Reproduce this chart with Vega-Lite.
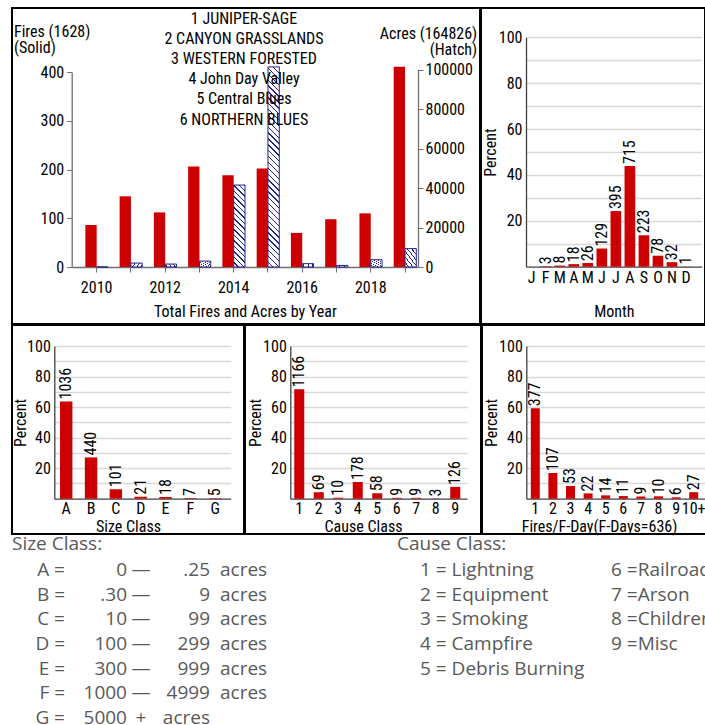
{
  "$schema": "https://vega.github.io/schema/vega-lite/v6.json",
  "padding": {"left": 11, "top": 7, "right": 0, "bottom": 0},
  "background": "white",
  "config": {
    "view": {"stroke": "#000000", "strokeWidth": 2},
    "font": "Liberation Sans Narrow, Arial Narrow, Roboto Condensed, DejaVu Sans Condensed, Liberation Sans, sans-serif",
    "axis": {
      "labelFont": "Liberation Sans Narrow, Arial Narrow, Roboto Condensed, DejaVu Sans Condensed, Liberation Sans, sans-serif",
      "titleFont": "Liberation Sans Narrow, Arial Narrow, Roboto Condensed, DejaVu Sans Condensed, Liberation Sans, sans-serif",
      "labelFontSize": 16, "titleFontSize": 16, "titleFontWeight": "normal",
      "labelColor": "#000000", "titleColor": "#000000",
      "domainColor": "#404040", "domainWidth": 1.3, "tickColor": "#404040",
      "gridColor": "#d9d9d9", "gridWidth": 1.3,
      "labelOverlap": false, "labelBound": false, "labelFlush": false
    },
    "title": {"fontWeight": "normal", "color": "#000000"},
    "text": {"font": "Liberation Sans Narrow, Arial Narrow, Roboto Condensed, DejaVu Sans Condensed, Liberation Sans, sans-serif", "fontSize": 16, "color": "#000000"}
  },
  "datasets": {
    "years": [
      {"year": 2010, "fires": 86, "acres": 0},
      {"year": 2011, "fires": 145, "acres": 2000},
      {"year": 2012, "fires": 112, "acres": 1500},
      {"year": 2013, "fires": 206, "acres": 3000},
      {"year": 2014, "fires": 188, "acres": 41500},
      {"year": 2015, "fires": 202, "acres": 101326},
      {"year": 2016, "fires": 70, "acres": 1700},
      {"year": 2017, "fires": 98, "acres": 800},
      {"year": 2018, "fires": 110, "acres": 3700},
      {"year": 2019, "fires": 411, "acres": 9300}
    ],
    "regions": [
      {"region": "1 JUNIPER-SAGE"},
      {"region": "2 CANYON GRASSLANDS"},
      {"region": "3 WESTERN FORESTED"},
      {"region": "4 John Day Valley"},
      {"region": "5 Central Blues"},
      {"region": "6 NORTHERN BLUES"}
    ],
    "months": [
      {"month": "Jan", "count": 0, "pct": 0},
      {"month": "Feb", "count": 3, "pct": 0.18},
      {"month": "Mar", "count": 8, "pct": 0.49},
      {"month": "Apr", "count": 18, "pct": 1.11},
      {"month": "May", "count": 26, "pct": 1.6},
      {"month": "Jun", "count": 129, "pct": 7.92},
      {"month": "Jul", "count": 395, "pct": 24.26},
      {"month": "Aug", "count": 715, "pct": 43.92},
      {"month": "Sep", "count": 223, "pct": 13.7},
      {"month": "Oct", "count": 78, "pct": 4.79},
      {"month": "Nov", "count": 32, "pct": 1.97},
      {"month": "Dec", "count": 1, "pct": 0.06}
    ],
    "size": [
      {"cls": "A", "count": 1036, "pct": 63.64},
      {"cls": "B", "count": 440, "pct": 27.03},
      {"cls": "C", "count": 101, "pct": 6.2},
      {"cls": "D", "count": 21, "pct": 1.29},
      {"cls": "E", "count": 18, "pct": 1.11},
      {"cls": "F", "count": 7, "pct": 0.43},
      {"cls": "G", "count": 5, "pct": 0.31}
    ],
    "cause": [
      {"cause": "1", "count": 1166, "pct": 71.62},
      {"cause": "2", "count": 69, "pct": 4.24},
      {"cause": "3", "count": 10, "pct": 0.61},
      {"cause": "4", "count": 178, "pct": 10.93},
      {"cause": "5", "count": 58, "pct": 3.56},
      {"cause": "6", "count": 9, "pct": 0.55},
      {"cause": "7", "count": 9, "pct": 0.55},
      {"cause": "8", "count": 3, "pct": 0.18},
      {"cause": "9", "count": 126, "pct": 7.74}
    ],
    "fday": [
      {"fpd": "1", "count": 377, "pct": 59.28},
      {"fpd": "2", "count": 107, "pct": 16.82},
      {"fpd": "3", "count": 53, "pct": 8.33},
      {"fpd": "4", "count": 22, "pct": 3.46},
      {"fpd": "5", "count": 14, "pct": 2.2},
      {"fpd": "6", "count": 11, "pct": 1.73},
      {"fpd": "7", "count": 9, "pct": 1.42},
      {"fpd": "8", "count": 10, "pct": 1.57},
      {"fpd": "9", "count": 6, "pct": 0.94},
      {"fpd": "10+", "count": 27, "pct": 4.25}
    ],
    "sizeLegend": [
      {"key": "A =", "lo": "0", "sep": "—", "hi": ".25", "unit": "acres"},
      {"key": "B =", "lo": ".30", "sep": "—", "hi": "9", "unit": "acres"},
      {"key": "C =", "lo": "10", "sep": "—", "hi": "99", "unit": "acres"},
      {"key": "D =", "lo": "100", "sep": "—", "hi": "299", "unit": "acres"},
      {"key": "E =", "lo": "300", "sep": "—", "hi": "999", "unit": "acres"},
      {"key": "F =", "lo": "1000", "sep": "—", "hi": "4999", "unit": "acres"},
      {"key": "G =", "lo": "5000", "sep": "+", "hi": "acres", "unit": ""}
    ],
    "causeLegend": [
      {"code": 1, "label": "1 = Lightning"},
      {"code": 2, "label": "2 = Equipment"},
      {"code": 3, "label": "3 = Smoking"},
      {"code": 4, "label": "4 = Campfire"},
      {"code": 5, "label": "5 = Debris Burning"},
      {"code": 6, "label": "6 =Railroad"},
      {"code": 7, "label": "7 =Arson"},
      {"code": 8, "label": "8 =Children"},
      {"code": 9, "label": "9 =Misc"}
    ]
  },
  "spacing": -1,
  "vconcat": [
    {
      "spacing": -2,
      "vconcat": [
        {
          "spacing": -2,
          "hconcat": [
            {
              "width": 468, "height": 316,
              "layer": [
                {
                  "data": {"name": "years"},
                  "mark": {"type": "bar", "color": "#cc0000", "width": {"band": 0.5}, "xOffset": -5.65},
                  "encoding": {
                    "x": {
                      "field": "year", "type": "ordinal",
                      "scale": {"range": [59.7, 406], "paddingInner": 0.34, "paddingOuter": 0.224, "align": 0.89},
                      "axis": {
                        "title": "Total Fires and Acres by Year", "labelAngle": 0, "offset": -57,
                        "labelExpr": "datum.value % 2 === 0 ? datum.label : ''",
                        "tickSize": 5, "labelPadding": 7, "titlePadding": 8,
                        "domainColor": "#707070", "tickColor": "#707070"
                      }
                    },
                    "y": {
                      "field": "fires", "type": "quantitative",
                      "scale": {"domain": [0, 400], "range": [259, 64], "nice": false},
                      "axis": {
                        "orient": "left", "offset": -59.7, "values": [0, 100, 200, 300, 400], "grid": false,
                        "title": ["Fires (1628)", "(Solid)"], "titleAngle": 0, "titleAlign": "left", "titleBaseline": "top",
                        "titleX": -58.2, "titleY": 15, "titleLineHeight": 16,
                        "tickSize": 5, "labelPadding": 3, "domainColor": "#707070", "tickColor": "#707070"
                      }
                    }
                  }
                },
                {
                  "data": {"name": "years"},
                  "mark": {"type": "bar", "width": {"band": 0.5}, "xOffset": 5.65, "stroke": "#23238e", "strokeWidth": 1},
                  "encoding": {
                    "x": {"field": "year", "type": "ordinal"},
                    "y": {
                      "field": "acres", "type": "quantitative",
                      "scale": {"domain": [0, 100000], "range": [259, 61.5], "nice": false},
                      "axis": {
                        "orient": "right", "offset": -62, "values": [0, 20000, 40000, 60000, 80000, 100000], "format": "d", "grid": false,
                        "title": ["Acres (164826)", "(Hatch)"], "titleAngle": 0, "titleAlign": "right", "titleBaseline": "top",
                        "titleX": 58.7, "titleY": 17.8, "titleLineHeight": 16,
                        "tickSize": 5, "labelPadding": 2, "domainColor": "#707070", "tickColor": "#707070"
                      }
                    },
                    "fill": {
                      "condition": [
                        {
                          "test": "datum.acres > 60000",
                          "value": {
                            "gradient": "linear", "x1": 1, "y1": 0, "x2": 0.9405, "y2": 1.053,
                            "stops": [
                              {"offset": 0, "color": "#23238e"}, {"offset": 0.0065, "color": "#23238e"}, {"offset": 0.0065, "color": "#ffffff"}, {"offset": 0.0278, "color": "#ffffff"},
                              {"offset": 0.0278, "color": "#23238e"}, {"offset": 0.0343, "color": "#23238e"}, {"offset": 0.0343, "color": "#ffffff"}, {"offset": 0.0556, "color": "#ffffff"},
                              {"offset": 0.0556, "color": "#23238e"}, {"offset": 0.0621, "color": "#23238e"}, {"offset": 0.0621, "color": "#ffffff"}, {"offset": 0.0833, "color": "#ffffff"},
                              {"offset": 0.0833, "color": "#23238e"}, {"offset": 0.0898, "color": "#23238e"}, {"offset": 0.0898, "color": "#ffffff"}, {"offset": 0.1111, "color": "#ffffff"},
                              {"offset": 0.1111, "color": "#23238e"}, {"offset": 0.1176, "color": "#23238e"}, {"offset": 0.1176, "color": "#ffffff"}, {"offset": 0.1389, "color": "#ffffff"},
                              {"offset": 0.1389, "color": "#23238e"}, {"offset": 0.1454, "color": "#23238e"}, {"offset": 0.1454, "color": "#ffffff"}, {"offset": 0.1667, "color": "#ffffff"},
                              {"offset": 0.1667, "color": "#23238e"}, {"offset": 0.1732, "color": "#23238e"}, {"offset": 0.1732, "color": "#ffffff"}, {"offset": 0.1944, "color": "#ffffff"},
                              {"offset": 0.1944, "color": "#23238e"}, {"offset": 0.2009, "color": "#23238e"}, {"offset": 0.2009, "color": "#ffffff"}, {"offset": 0.2222, "color": "#ffffff"},
                              {"offset": 0.2222, "color": "#23238e"}, {"offset": 0.2287, "color": "#23238e"}, {"offset": 0.2287, "color": "#ffffff"}, {"offset": 0.25, "color": "#ffffff"},
                              {"offset": 0.25, "color": "#23238e"}, {"offset": 0.2565, "color": "#23238e"}, {"offset": 0.2565, "color": "#ffffff"}, {"offset": 0.2778, "color": "#ffffff"},
                              {"offset": 0.2778, "color": "#23238e"}, {"offset": 0.2843, "color": "#23238e"}, {"offset": 0.2843, "color": "#ffffff"}, {"offset": 0.3056, "color": "#ffffff"},
                              {"offset": 0.3056, "color": "#23238e"}, {"offset": 0.3121, "color": "#23238e"}, {"offset": 0.3121, "color": "#ffffff"}, {"offset": 0.3333, "color": "#ffffff"},
                              {"offset": 0.3333, "color": "#23238e"}, {"offset": 0.3398, "color": "#23238e"}, {"offset": 0.3398, "color": "#ffffff"}, {"offset": 0.3611, "color": "#ffffff"},
                              {"offset": 0.3611, "color": "#23238e"}, {"offset": 0.3676, "color": "#23238e"}, {"offset": 0.3676, "color": "#ffffff"}, {"offset": 0.3889, "color": "#ffffff"},
                              {"offset": 0.3889, "color": "#23238e"}, {"offset": 0.3954, "color": "#23238e"}, {"offset": 0.3954, "color": "#ffffff"}, {"offset": 0.4167, "color": "#ffffff"},
                              {"offset": 0.4167, "color": "#23238e"}, {"offset": 0.4232, "color": "#23238e"}, {"offset": 0.4232, "color": "#ffffff"}, {"offset": 0.4444, "color": "#ffffff"},
                              {"offset": 0.4444, "color": "#23238e"}, {"offset": 0.4509, "color": "#23238e"}, {"offset": 0.4509, "color": "#ffffff"}, {"offset": 0.4722, "color": "#ffffff"},
                              {"offset": 0.4722, "color": "#23238e"}, {"offset": 0.4787, "color": "#23238e"}, {"offset": 0.4787, "color": "#ffffff"}, {"offset": 0.5, "color": "#ffffff"},
                              {"offset": 0.5, "color": "#23238e"}, {"offset": 0.5065, "color": "#23238e"}, {"offset": 0.5065, "color": "#ffffff"}, {"offset": 0.5278, "color": "#ffffff"},
                              {"offset": 0.5278, "color": "#23238e"}, {"offset": 0.5343, "color": "#23238e"}, {"offset": 0.5343, "color": "#ffffff"}, {"offset": 0.5556, "color": "#ffffff"},
                              {"offset": 0.5556, "color": "#23238e"}, {"offset": 0.5621, "color": "#23238e"}, {"offset": 0.5621, "color": "#ffffff"}, {"offset": 0.5833, "color": "#ffffff"},
                              {"offset": 0.5833, "color": "#23238e"}, {"offset": 0.5898, "color": "#23238e"}, {"offset": 0.5898, "color": "#ffffff"}, {"offset": 0.6111, "color": "#ffffff"},
                              {"offset": 0.6111, "color": "#23238e"}, {"offset": 0.6176, "color": "#23238e"}, {"offset": 0.6176, "color": "#ffffff"}, {"offset": 0.6389, "color": "#ffffff"},
                              {"offset": 0.6389, "color": "#23238e"}, {"offset": 0.6454, "color": "#23238e"}, {"offset": 0.6454, "color": "#ffffff"}, {"offset": 0.6667, "color": "#ffffff"},
                              {"offset": 0.6667, "color": "#23238e"}, {"offset": 0.6732, "color": "#23238e"}, {"offset": 0.6732, "color": "#ffffff"}, {"offset": 0.6944, "color": "#ffffff"},
                              {"offset": 0.6944, "color": "#23238e"}, {"offset": 0.7009, "color": "#23238e"}, {"offset": 0.7009, "color": "#ffffff"}, {"offset": 0.7222, "color": "#ffffff"},
                              {"offset": 0.7222, "color": "#23238e"}, {"offset": 0.7287, "color": "#23238e"}, {"offset": 0.7287, "color": "#ffffff"}, {"offset": 0.75, "color": "#ffffff"},
                              {"offset": 0.75, "color": "#23238e"}, {"offset": 0.7565, "color": "#23238e"}, {"offset": 0.7565, "color": "#ffffff"}, {"offset": 0.7778, "color": "#ffffff"},
                              {"offset": 0.7778, "color": "#23238e"}, {"offset": 0.7843, "color": "#23238e"}, {"offset": 0.7843, "color": "#ffffff"}, {"offset": 0.8056, "color": "#ffffff"},
                              {"offset": 0.8056, "color": "#23238e"}, {"offset": 0.8121, "color": "#23238e"}, {"offset": 0.8121, "color": "#ffffff"}, {"offset": 0.8333, "color": "#ffffff"},
                              {"offset": 0.8333, "color": "#23238e"}, {"offset": 0.8398, "color": "#23238e"}, {"offset": 0.8398, "color": "#ffffff"}, {"offset": 0.8611, "color": "#ffffff"},
                              {"offset": 0.8611, "color": "#23238e"}, {"offset": 0.8676, "color": "#23238e"}, {"offset": 0.8676, "color": "#ffffff"}, {"offset": 0.8889, "color": "#ffffff"},
                              {"offset": 0.8889, "color": "#23238e"}, {"offset": 0.8954, "color": "#23238e"}, {"offset": 0.8954, "color": "#ffffff"}, {"offset": 0.9167, "color": "#ffffff"},
                              {"offset": 0.9167, "color": "#23238e"}, {"offset": 0.9232, "color": "#23238e"}, {"offset": 0.9232, "color": "#ffffff"}, {"offset": 0.9444, "color": "#ffffff"},
                              {"offset": 0.9444, "color": "#23238e"}, {"offset": 0.9509, "color": "#23238e"}, {"offset": 0.9509, "color": "#ffffff"}, {"offset": 0.9722, "color": "#ffffff"},
                              {"offset": 0.9722, "color": "#23238e"}, {"offset": 0.9787, "color": "#23238e"}, {"offset": 0.9787, "color": "#ffffff"}, {"offset": 1, "color": "#ffffff"}
                            ]
                          }
                        },
                        {
                          "test": "datum.acres > 20000",
                          "value": {
                            "gradient": "linear", "x1": 1, "y1": 0, "x2": 0.8459, "y2": 1.1168,
                            "stops": [
                              {"offset": 0, "color": "#23238e"}, {"offset": 0.014, "color": "#23238e"}, {"offset": 0.014, "color": "#ffffff"}, {"offset": 0.0588, "color": "#ffffff"},
                              {"offset": 0.0588, "color": "#23238e"}, {"offset": 0.0728, "color": "#23238e"}, {"offset": 0.0728, "color": "#ffffff"}, {"offset": 0.1176, "color": "#ffffff"},
                              {"offset": 0.1176, "color": "#23238e"}, {"offset": 0.1316, "color": "#23238e"}, {"offset": 0.1316, "color": "#ffffff"}, {"offset": 0.1765, "color": "#ffffff"},
                              {"offset": 0.1765, "color": "#23238e"}, {"offset": 0.1905, "color": "#23238e"}, {"offset": 0.1905, "color": "#ffffff"}, {"offset": 0.2353, "color": "#ffffff"},
                              {"offset": 0.2353, "color": "#23238e"}, {"offset": 0.2493, "color": "#23238e"}, {"offset": 0.2493, "color": "#ffffff"}, {"offset": 0.2941, "color": "#ffffff"},
                              {"offset": 0.2941, "color": "#23238e"}, {"offset": 0.3081, "color": "#23238e"}, {"offset": 0.3081, "color": "#ffffff"}, {"offset": 0.3529, "color": "#ffffff"},
                              {"offset": 0.3529, "color": "#23238e"}, {"offset": 0.3669, "color": "#23238e"}, {"offset": 0.3669, "color": "#ffffff"}, {"offset": 0.4118, "color": "#ffffff"},
                              {"offset": 0.4118, "color": "#23238e"}, {"offset": 0.4258, "color": "#23238e"}, {"offset": 0.4258, "color": "#ffffff"}, {"offset": 0.4706, "color": "#ffffff"},
                              {"offset": 0.4706, "color": "#23238e"}, {"offset": 0.4846, "color": "#23238e"}, {"offset": 0.4846, "color": "#ffffff"}, {"offset": 0.5294, "color": "#ffffff"},
                              {"offset": 0.5294, "color": "#23238e"}, {"offset": 0.5434, "color": "#23238e"}, {"offset": 0.5434, "color": "#ffffff"}, {"offset": 0.5882, "color": "#ffffff"},
                              {"offset": 0.5882, "color": "#23238e"}, {"offset": 0.6022, "color": "#23238e"}, {"offset": 0.6022, "color": "#ffffff"}, {"offset": 0.6471, "color": "#ffffff"},
                              {"offset": 0.6471, "color": "#23238e"}, {"offset": 0.6611, "color": "#23238e"}, {"offset": 0.6611, "color": "#ffffff"}, {"offset": 0.7059, "color": "#ffffff"},
                              {"offset": 0.7059, "color": "#23238e"}, {"offset": 0.7199, "color": "#23238e"}, {"offset": 0.7199, "color": "#ffffff"}, {"offset": 0.7647, "color": "#ffffff"},
                              {"offset": 0.7647, "color": "#23238e"}, {"offset": 0.7787, "color": "#23238e"}, {"offset": 0.7787, "color": "#ffffff"}, {"offset": 0.8235, "color": "#ffffff"},
                              {"offset": 0.8235, "color": "#23238e"}, {"offset": 0.8375, "color": "#23238e"}, {"offset": 0.8375, "color": "#ffffff"}, {"offset": 0.8824, "color": "#ffffff"},
                              {"offset": 0.8824, "color": "#23238e"}, {"offset": 0.8964, "color": "#23238e"}, {"offset": 0.8964, "color": "#ffffff"}, {"offset": 0.9412, "color": "#ffffff"},
                              {"offset": 0.9412, "color": "#23238e"}, {"offset": 0.9552, "color": "#23238e"}, {"offset": 0.9552, "color": "#ffffff"}, {"offset": 1, "color": "#ffffff"}
                            ]
                          }
                        }
                      ],
                      "value": {
                        "gradient": "linear", "x1": 1, "y1": 0, "x2": 0.122, "y2": 1.0976,
                        "stops": [
                          {"offset": 0, "color": "#23238e"}, {"offset": 0.04, "color": "#23238e"}, {"offset": 0.04, "color": "#ffffff"}, {"offset": 0.1667, "color": "#ffffff"},
                          {"offset": 0.1667, "color": "#23238e"}, {"offset": 0.2067, "color": "#23238e"}, {"offset": 0.2067, "color": "#ffffff"}, {"offset": 0.3333, "color": "#ffffff"},
                          {"offset": 0.3333, "color": "#23238e"}, {"offset": 0.3733, "color": "#23238e"}, {"offset": 0.3733, "color": "#ffffff"}, {"offset": 0.5, "color": "#ffffff"},
                          {"offset": 0.5, "color": "#23238e"}, {"offset": 0.54, "color": "#23238e"}, {"offset": 0.54, "color": "#ffffff"}, {"offset": 0.6667, "color": "#ffffff"},
                          {"offset": 0.6667, "color": "#23238e"}, {"offset": 0.7067, "color": "#23238e"}, {"offset": 0.7067, "color": "#ffffff"}, {"offset": 0.8333, "color": "#ffffff"},
                          {"offset": 0.8333, "color": "#23238e"}, {"offset": 0.8733, "color": "#23238e"}, {"offset": 0.8733, "color": "#ffffff"}, {"offset": 1, "color": "#ffffff"}
                        ]
                      }
                    }
                  }
                },
                {
                  "data": {"name": "regions"},
                  "mark": {"type": "text", "align": "center", "baseline": "middle", "dx": -2},
                  "encoding": {
                    "y": {"field": "region", "type": "nominal", "sort": null, "scale": {"type": "point", "range": [10.5, 111.5], "padding": 0}, "axis": null},
                    "text": {"field": "region", "type": "nominal"}
                  }
                }
              ],
              "resolve": {"scale": {"y": "independent"}}
            },
            {
              "width": 224, "height": 316,
              "data": {"name": "months"},
              "encoding": {
                "x": {
                  "field": "month", "type": "nominal", "sort": null,
                  "scale": {"range": [45, 220.7], "paddingInner": 0.24, "paddingOuter": 0.38, "align": 0.03},
                  "axis": {"title": "Month", "labelAngle": 0, "labelExpr": "substring(datum.label, 0, 1)", "offset": -57.3, "ticks": false, "labelPadding": 3, "titlePadding": 18}
                },
                "y": {
                  "field": "pct", "type": "quantitative",
                  "scale": {"domain": [0, 100], "range": [258.7, 29.3], "nice": false},
                  "axis": {"title": "Percent", "offset": -45, "values": [10, 20, 30, 40, 50, 60, 70, 80, 90, 100], "labelExpr": "datum.value % 20 === 0 ? datum.label : ''", "grid": true, "ticks": false, "labelPadding": 4, "titleX": -28}
                }
              },
              "layer": [
                {"mark": {"type": "bar", "color": "#cc0000"}},
                {
                  "transform": [{"filter": "datum.count > 0"}],
                  "mark": {"type": "text", "angle": 270, "align": "left", "baseline": "middle", "dx": 2},
                  "encoding": {"text": {"field": "count", "type": "quantitative"}}
                }
              ]
            }
          ]
        },
        {
          "spacing": -2,
          "hconcat": [
            {
              "width": 232, "height": 209,
              "data": {"name": "size"},
              "encoding": {
                "x": {
                  "field": "cls", "type": "nominal", "sort": null,
                  "scale": {"range": [42.3, 218.7], "paddingInner": 0.5, "paddingOuter": 0.302, "align": 0.38},
                  "axis": {"title": "Size Class", "labelAngle": 0, "offset": -35.3, "ticks": false, "labelPadding": 2, "titlePadding": 2, "titleX": 116}
                },
                "y": {
                  "field": "pct", "type": "quantitative",
                  "scale": {"domain": [0, 100], "range": [173.7, 21], "nice": false},
                  "axis": {"title": "Percent", "offset": -42.3, "values": [10, 20, 30, 40, 50, 60, 70, 80, 90, 100], "labelExpr": "datum.value % 20 === 0 ? datum.label : ''", "grid": true, "ticks": false, "labelPadding": 4, "titleX": -25.8}
                }
              },
              "layer": [
                {"mark": {"type": "bar", "color": "#cc0000"}},
                {
                  "mark": {"type": "text", "angle": 270, "align": "left", "baseline": "middle", "dx": 2},
                  "encoding": {"text": {"field": "count", "type": "quantitative"}}
                }
              ]
            },
            {
              "width": 236, "height": 209,
              "data": {"name": "cause"},
              "encoding": {
                "x": {
                  "field": "cause", "type": "nominal", "sort": null,
                  "scale": {"range": [45.3, 222], "paddingInner": 0.487, "paddingOuter": 0.274, "align": 0.37},
                  "axis": {"title": "Cause Class", "labelAngle": 0, "offset": -35.3, "ticks": false, "labelPadding": 2, "titlePadding": 2, "titleX": 118}
                },
                "y": {
                  "field": "pct", "type": "quantitative",
                  "scale": {"domain": [0, 100], "range": [173.7, 21], "nice": false},
                  "axis": {"title": "Percent", "offset": -45.3, "values": [10, 20, 30, 40, 50, 60, 70, 80, 90, 100], "labelExpr": "datum.value % 20 === 0 ? datum.label : ''", "grid": true, "ticks": false, "labelPadding": 4, "titleX": -27}
                }
              },
              "layer": [
                {"mark": {"type": "bar", "color": "#cc0000"}},
                {
                  "mark": {"type": "text", "angle": 270, "align": "left", "baseline": "middle", "dx": 2},
                  "encoding": {"text": {"field": "count", "type": "quantitative"}}
                }
              ]
            },
            {
              "width": 224, "height": 209,
              "data": {"name": "fday"},
              "encoding": {
                "x": {
                  "field": "fpd", "type": "nominal", "sort": null,
                  "scale": {"range": [44.3, 224], "paddingInner": 0.49, "paddingOuter": 0.35, "align": 0.366},
                  "axis": {"title": "Fires/F-Day(F-Days=636)", "labelAngle": 0, "offset": -35.3, "ticks": false, "labelPadding": 2, "titlePadding": 2, "titleX": 117}
                },
                "y": {
                  "field": "pct", "type": "quantitative",
                  "scale": {"domain": [0, 100], "range": [173.7, 21], "nice": false},
                  "axis": {"title": "Percent", "offset": -44.3, "values": [10, 20, 30, 40, 50, 60, 70, 80, 90, 100], "labelExpr": "datum.value % 20 === 0 ? datum.label : ''", "grid": true, "ticks": false, "labelPadding": 4, "titleX": -27}
                }
              },
              "layer": [
                {"mark": {"type": "bar", "color": "#cc0000"}},
                {
                  "mark": {"type": "text", "angle": 270, "align": "left", "baseline": "middle", "dx": 2},
                  "encoding": {"text": {"field": "count", "type": "quantitative"}}
                }
              ]
            }
          ]
        }
      ]
    },
    {
      "spacing": 0,
      "bounds": "flush",
      "hconcat": [
        {
          "width": 385, "height": 168,
          "view": {"stroke": null},
          "data": {"name": "sizeLegend"},
          "title": {"text": "Size Class:", "anchor": "start", "frame": "group", "font": "Open Sans", "fontSize": 19, "fontWeight": "normal", "color": "#595959", "baseline": "bottom", "offset": -15},
          "encoding": {
            "y": {"field": "key", "type": "nominal", "sort": null, "scale": {"type": "point", "padding": 0.4054, "align": 0.6}, "axis": null}
          },
          "layer": [
            {"mark": {"type": "text", "align": "right", "baseline": "middle", "dx": -139.5, "clip": true, "font": "Open Sans", "fontSize": 19, "color": "#595959"}, "encoding": {"text": {"field": "key", "type": "nominal"}}},
            {"mark": {"type": "text", "align": "right", "baseline": "middle", "dx": -77.5, "clip": true, "font": "Open Sans", "fontSize": 19, "color": "#595959"}, "encoding": {"text": {"field": "lo", "type": "nominal"}}},
            {"mark": {"type": "text", "align": "center", "baseline": "middle", "dx": -63.5, "clip": true, "font": "Open Sans", "fontSize": 19, "color": "#595959"}, "encoding": {"text": {"field": "sep", "type": "nominal"}}},
            {"mark": {"type": "text", "align": "right", "baseline": "middle", "dx": 5.5, "clip": true, "font": "Open Sans", "fontSize": 19, "color": "#595959"}, "encoding": {"text": {"field": "hi", "type": "nominal"}}},
            {"mark": {"type": "text", "align": "left", "baseline": "middle", "dx": 15.5, "clip": true, "font": "Open Sans", "fontSize": 19, "color": "#595959"}, "encoding": {"text": {"field": "unit", "type": "nominal"}}}
          ]
        },
        {
          "width": 214, "height": 122.7,
          "view": {"stroke": null},
          "data": {"name": "causeLegend"},
          "transform": [{"filter": "datum.code <= 5"}],
          "title": {"text": "Cause Class:", "anchor": "start", "frame": "group", "font": "Open Sans", "fontSize": 19, "fontWeight": "normal", "color": "#595959", "baseline": "bottom", "offset": -15},
          "mark": {"type": "text", "align": "left", "baseline": "middle", "dx": -84, "clip": true, "font": "Open Sans", "fontSize": 19, "color": "#595959"},
          "encoding": {
            "y": {"field": "label", "type": "nominal", "sort": null, "scale": {"type": "point", "padding": 0.4864, "align": 0.5}, "axis": null},
            "text": {"field": "label", "type": "nominal"}
          }
        },
        {
          "width": 94, "height": 98,
          "view": {"stroke": null},
          "data": {"name": "causeLegend"},
          "transform": [{"filter": "datum.code > 5"}],
          "mark": {"type": "text", "align": "left", "baseline": "middle", "dx": -47, "clip": true, "font": "Open Sans", "fontSize": 19, "color": "#595959"},
          "encoding": {
            "y": {"field": "label", "type": "nominal", "sort": null, "scale": {"type": "point", "padding": 0.4864, "align": 0.5}, "axis": null},
            "text": {"field": "label", "type": "nominal"}
          }
        }
      ]
    }
  ]
}
